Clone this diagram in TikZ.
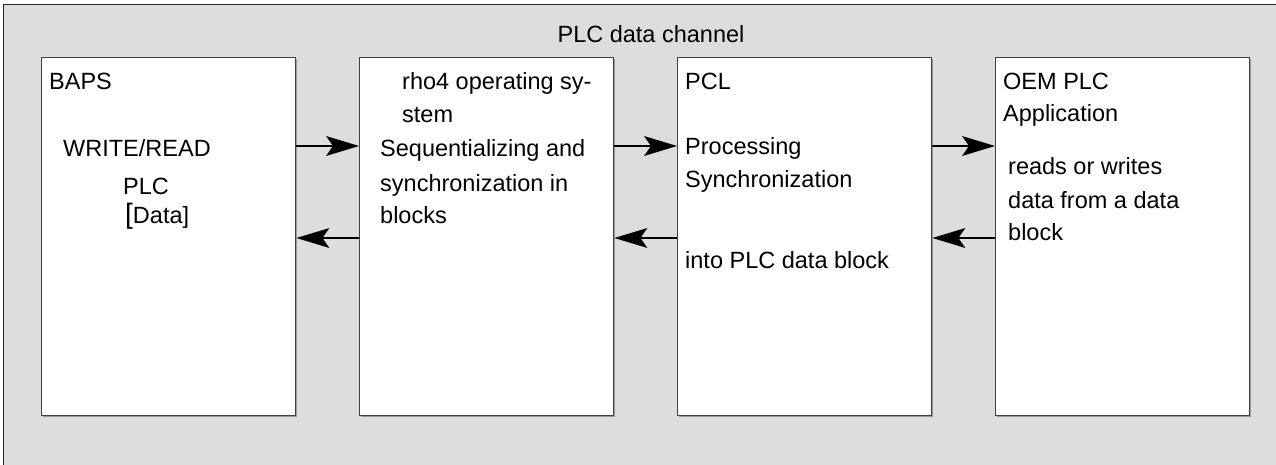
\documentclass[tikz,border=0pt]{standalone}
\usepackage{fontspec}
\setmainfont{Liberation Sans}
\usetikzlibrary{arrows.meta,shadows}
\definecolor{panelgray}{RGB}{221,221,221}
\tikzset{
  blockbox/.style={draw=black!75, line width=1.4pt, fill=white, inner sep=0pt,
    minimum width=254pt, minimum height=358pt, anchor=north west,
    drop shadow={shadow xshift=1.6pt, shadow yshift=-1.6pt, fill=black!40, opacity=1}},
  txt/.style={anchor=base west, inner sep=0pt, font=\fontsize{23.5}{28}\selectfont},
  headtip/.tip={Stealth[length=33pt,width=20pt,inset=7pt,line width=0pt]},
  flow/.style={line width=1.2pt, -headtip}
}
\begin{document}
\begin{tikzpicture}[x=1pt,y=-1pt]
\useasboundingbox (0,0) rectangle (1276,465);
% outer panel (runs past the right and bottom edges)
\draw[fill=panelgray, draw=black!85, line width=1.2pt] (3.5,4.5) rectangle (1300,490);
\node[txt, anchor=base] (title) at (651,43) {PLC data channel};

% four processing blocks
\node[blockbox] (b1) at (41,57) {};
\node[blockbox] (b2) at (359,57) {};
\node[blockbox] (b3) at (677,57) {};
\node[blockbox] (b4) at (995,57) {};

% rows for the connectors
\coordinate (hi) at (0,146);
\coordinate (lo) at (0,238);

\draw[flow] (b1.east |- hi) -- (b2.west |- hi);
\draw[flow] (b2.west |- lo) -- (b1.east |- lo);
\draw[flow] (b2.east |- hi) -- (b3.west |- hi);
\draw[flow] (b3.west |- lo) -- (b2.east |- lo);
\draw[flow] (b3.east |- hi) -- (b4.west |- hi);
\draw[flow] (b4.west |- lo) -- (b3.east |- lo);

% BAPS
\node[txt] (t1a) at (49,90) {BAPS};
\node[txt] (t1b) at (63,157) {WRITE/READ};
\node[txt] (t1c) at (123,195) {PLC};
\node[txt] (t1d) at (125,223) {{\fontsize{28}{28}\selectfont[}Data]};

% rho4 operating system
\node[txt] (t2a) at (402,90) {rho4 operating sy-};
\node[txt] (t2b) at (402,123) {stem};
\node[txt] (t2c) at (380,157) {Sequentializing and};
\node[txt] (t2d) at (380,192) {synchronization in};
\node[txt] (t2e) at (380,223) {blocks};

% PCL
\node[txt] (t3a) at (685,90) {PCL};
\node[txt] (t3b) at (685,155) {Processing};
\node[txt] (t3c) at (685,187) {Synchronization};
\node[txt] (t3d) at (685,268) {into PLC data block};

% OEM PLC application
\node[txt] (t4a) at (1003,90) {OEM PLC};
\node[txt] (t4b) at (1003,122) {Application};
\node[txt] (t4c) at (1008,175) {reads or writes};
\node[txt] (t4d) at (1008,208) {data from a data};
\node[txt] (t4e) at (1008,240) {block};
\end{tikzpicture}
\end{document}
